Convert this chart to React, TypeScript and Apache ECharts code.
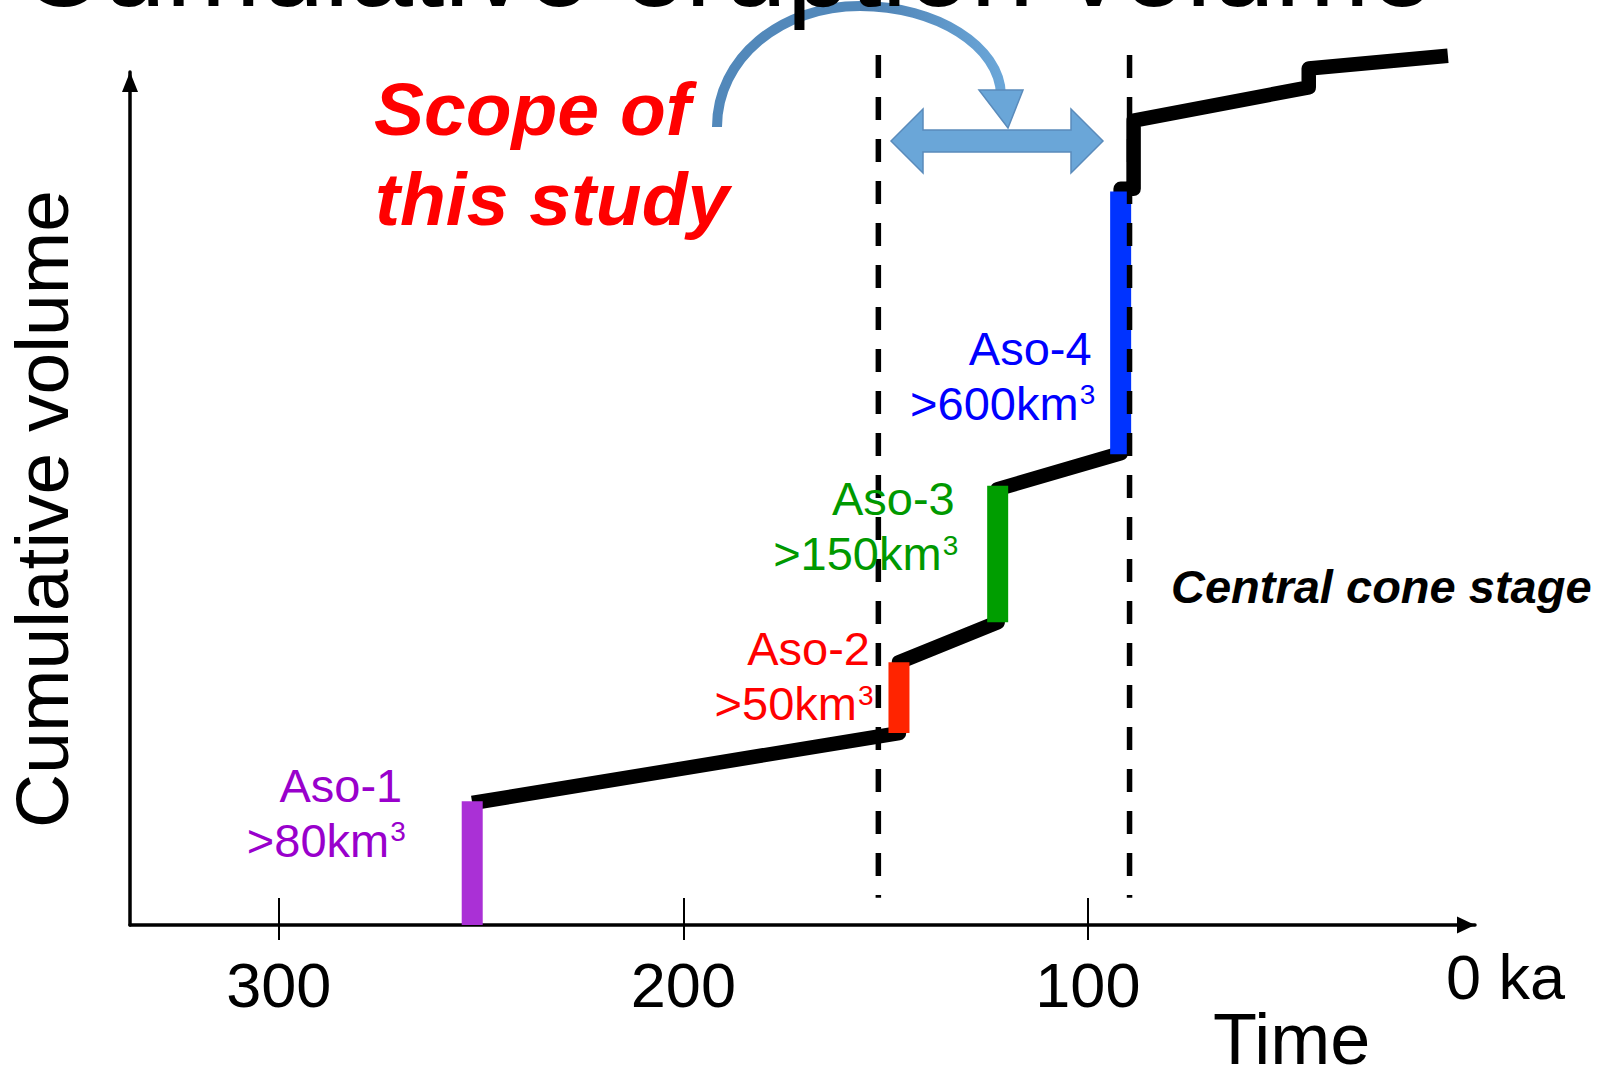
import React, { useEffect, useRef } from "react";
import * as echarts from "echarts";

// ---- data ----
const tickAges = [300, 200, 100]; // ka
const eruptionNames = ["Aso-1", "Aso-2", "Aso-3", "Aso-4"];
const eruptionVolumes = [">80km", ">50km", ">150km", ">600km"]; // followed by superscript 3
const eruptionAges = [252.2, 146.7, 122.3, 91.9]; // ka
const eruptionBase = [0, 22.5, 35.5, 55.2]; // cumulative volume (relative) before eruption
const eruptionTop = [14.5, 30.8, 51.5, 86.0]; // cumulative volume (relative) after eruption
const curveAges = [252.2, 146.7, 146.7, 122.3, 122.3, 91.9, 91.9, 88.7, 88.7, 45.4, 45.4, 11.0];
const curveVolumes = [14.3, 22.5, 30.8, 35.5, 51.1, 55.3, 86.3, 86.3, 94.3, 98.2, 100.4, 101.9];
const stageBoundaryAges = [151.8, 89.7];
const stageBoundaryRange = [102, 3.2];

// ---- styles ----
const barColors = ["#aa30d6", "#ff2400", "#009e00", "#0033ff"];
const textColors = ["#9900cc", "#ff0000", "#009900", "#0000ff"];
const labelDx = [-70, -29, -43, -29];
const labelDy = [0, 3, 29, 173];
const FAMILY = '"Liberation Sans", Arial, Helvetica, sans-serif';
const MID = 0.3465; // middle -> alphabetic baseline offset (em)

function txt(text: string, x: number, baseline: number, size: number, fill: string, align = "left", weight = "normal", italic = false, extra: any = {}) {
  const font = `${italic ? "italic " : ""}${weight} ${size}px ${FAMILY}`;
  return {
    type: "text",
    x,
    y: baseline - MID * size,
    z: 100,
    silent: true,
    style: {
      text,
      font,
      fill,
      textAlign: align,
      align,
      textVerticalAlign: "middle",
      verticalAlign: "middle",
    },
    ...extra,
  };
}

export default function App() {
  const ref = useRef<HTMLDivElement>(null);
  useEffect(() => {
    const chart = echarts.init(ref.current!, null, { renderer: "svg" });
    const xMin = 4.3;
    const xMax = 336.8;
    const series: any[] = [];
    series.push({
      type: "line",
      data: curveAges.map((a, i) => [a, curveVolumes[i]]),
      symbol: "none",
      clip: false,
      silent: true,
      z: 2,
      lineStyle: { color: "#000", width: 14.5, join: "round", cap: "butt" },
    });
    eruptionNames.forEach((n, i) => {
      series.push({
        type: "line",
        name: n,
        data: [
          [eruptionAges[i], eruptionBase[i]],
          [eruptionAges[i], eruptionTop[i]],
        ],
        symbol: "none",
        clip: false,
        silent: true,
        z: 3,
        lineStyle: { color: barColors[i], width: 21, cap: "butt" },
      });
    });
    stageBoundaryAges.forEach((a) => {
      series.push({
        type: "line",
        data: [
          [a, stageBoundaryRange[0]],
          [a, stageBoundaryRange[1]],
        ],
        symbol: "none",
        clip: false,
        silent: true,
        z: 4,
        lineStyle: { color: "#000", width: 5.5, type: [23, 19], cap: "butt" },
      });
    });

    const option: any = {
      animation: false,
      backgroundColor: "#ffffff",
      grid: { left: 130, right: 130, top: 72, bottom: 148, containLabel: false },
      xAxis: [
        {
          type: "value",
          min: xMin,
          max: xMax,
          inverse: true,
          position: "bottom",
          axisLine: {
            show: true,
            onZero: false,
            symbol: ["none", "triangle"],
            symbolSize: [17, 18],
            symbolOffset: [0, -9],
            lineStyle: { color: "#000", width: 3.5 },
          },
          axisTick: { show: true, inside: false, length: 15, customValues: tickAges, lineStyle: { color: "#000", width: 2 } },
          axisLabel: {
            show: true,
            customValues: tickAges,
            margin: 28,
            fontSize: 63,
            fontFamily: FAMILY,
            color: "#000",
            verticalAlign: "top",
          },
          splitLine: { show: false },
        },
        {
          type: "value",
          min: xMin,
          max: xMax,
          inverse: true,
          position: "top",
          offset: -853,
          axisLine: { show: false, onZero: false },
          axisTick: { show: true, inside: false, length: 27, customValues: tickAges, lineStyle: { color: "#000", width: 2 } },
          axisLabel: { show: false },
          splitLine: { show: false },
        },
      ],
      yAxis: {
        type: "value",
        min: 0,
        max: 100,
        axisLine: {
          show: true,
          onZero: false,
          symbol: ["none", "triangle"],
          symbolSize: [16, 20],
          symbolOffset: [0, -10],
          lineStyle: { color: "#000", width: 3.5 },
        },
        axisTick: { show: false },
        axisLabel: { show: false },
        splitLine: { show: false },
      },
      series,
    };
    chart.setOption(option);

    const graphics: any[] = [];
    // title (cut off at top)
    graphics.push(txt("Cumulative eruption volume", 20, 6, 114, "#000"));
    // axis texts
    graphics.push(txt("0 ka", 1446, 999, 63, "#000"));
    graphics.push(txt("Time", 1213, 1064, 72, "#000"));
    graphics.push({
      type: "text",
      x: 42,
      y: 509,
      rotation: Math.PI / 2,
      z: 100,
      silent: true,
      style: {
        text: "Cumulative volume",
        font: `normal 75px ${FAMILY}`,
        fill: "#000",
        textAlign: "center",
        align: "center",
        textVerticalAlign: "middle",
        verticalAlign: "middle",
      },
    });
    // annotations
    graphics.push(txt("Scope of", 374, 135, 75, "#ff0000", "left", "bold", true));
    graphics.push(txt("this study", 375, 225, 75, "#ff0000", "left", "bold", true));
    graphics.push(txt("Central cone stage", 1171, 603, 47, "#000", "left", "bold", true));

    // curved arrow
    const arcStroke = new echarts.graphic.LinearGradient(0, 0, 1, 0, [
      { offset: 0, color: "#4d80b2" },
      { offset: 1, color: "#6aa6d8" },
    ]);
    graphics.push({
      type: "bezierCurve",
      z: 90,
      silent: true,
      shape: { x1: 717, y1: 127, cpx1: 717, cpy1: 58, cpx2: 781, cpy2: 6, x2: 860, y2: 6 },
      style: { stroke: "#5288ba", lineWidth: 10, fill: "none" },
    });
    graphics.push({
      type: "bezierCurve",
      z: 90,
      silent: true,
      shape: { x1: 860, y1: 6, cpx1: 936, cpy1: 6, cpx2: 1000, cpy2: 46, x2: 1001, y2: 95 },
      style: { stroke: arcStroke, lineWidth: 10, fill: "none" },
    });
    graphics.push({
      type: "polygon",
      z: 91,
      silent: true,
      shape: { points: [[979, 90], [1023, 90], [1008, 128]] },
      style: { fill: "#6aa6d8", stroke: "#5a8bbb", lineWidth: 1.5 },
    });
    // double-headed arrow
    graphics.push({
      type: "polygon",
      z: 91,
      silent: true,
      shape: {
        points: [
          [891, 141], [923, 109], [923, 130], [1071, 130], [1071, 109],
          [1103, 141], [1071, 173], [1071, 152], [923, 152], [923, 173],
        ],
      },
      style: { fill: "#6aa6d8", stroke: "#5a8bbb", lineWidth: 1.5 },
    });

    // eruption labels anchored at bar tops
    eruptionNames.forEach((n, i) => {
      const p = chart.convertToPixel({ seriesIndex: 0 }, [eruptionAges[i], eruptionTop[i]]) as number[];
      const right = p[0] + labelDx[i];
      const base = p[1] + labelDy[i];
      graphics.push(txt(n, right, base, 47, textColors[i], "right"));
      graphics.push(txt(eruptionVolumes[i], right - 13, base + 55, 47, textColors[i], "right"));
      graphics.push(txt("3", right - 12, base + 40, 28, textColors[i], "left"));
    });

    chart.setOption({ graphic: graphics });
    return () => chart.dispose();
  }, []);
  return <div ref={ref} style={{ position: "fixed", left: 0, top: 0, width: 1605, height: 1073 }} />;
}
